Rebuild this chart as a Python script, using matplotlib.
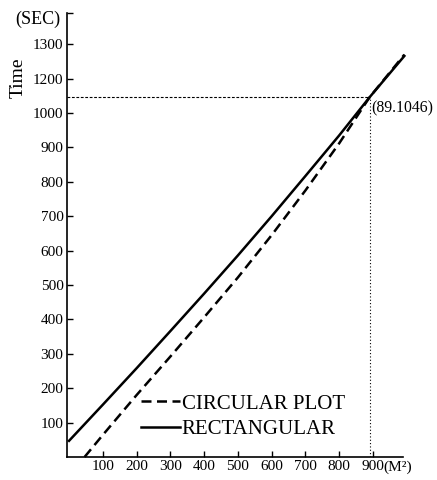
import matplotlib
matplotlib.use("Agg")
import matplotlib.pyplot as plt

# ---- data ----
rect_x = [0, 100, 200, 300, 400, 500, 600, 700, 800, 890, 993]
rect_y = [47, 152, 258, 366, 475, 586, 700, 817, 935, 1046, 1166]
circ_x = [46, 100, 200, 300, 400, 500, 600, 700, 800, 890, 993]
circ_y = [0, 64, 180, 292, 406, 522, 645, 775, 912, 1046, 1170]

x_ticks = [100, 200, 300, 400, 500, 600, 700, 800, 900]
x_tick_labels = ["100", "200", "300", "400", "500", "600", "700", "800", "900"]
y_ticks = [100, 200, 300, 400, 500, 600, 700, 800, 900, 1000, 1100, 1200, 1290]
y_tick_labels = ["100", "200", "300", "400", "500", "600", "700", "800", "900",
                 "1000", "1200", "1300", ""]

mark_x = 890
mark_y = 1046
mark_label = "(89.1046)"

plt.rcParams["font.family"] = ["Liberation Serif", "DejaVu Serif"]

W, H = 437, 480
fig = plt.figure(figsize=(W / 100, H / 100), dpi=100)
ax = fig.add_axes([67 / W, 1 - 457 / H, (403 - 67) / W, (457 - 13) / H])

ax.set_xlim(-6, 989)
ax.set_ylim(0, 1291)

ln_c, = ax.plot(circ_x, circ_y, color="black", lw=1.8, linestyle=(0, (4, 2.2)),
                clip_on=False, label="CIRCULAR PLOT")
ln_r, = ax.plot(rect_x, rect_y, color="black", lw=1.8, linestyle="-",
                clip_on=False, label="RECTANGULAR")

# reference lines for the intersection
ax.plot([-6, mark_x], [mark_y, mark_y], color="black", lw=0.8,
        linestyle=(0, (2.5, 1.5)))
ax.plot([mark_x, mark_x], [0, mark_y], color="black", lw=0.8,
        linestyle=(0, (1, 2)))
ax.text(mark_x + 6, mark_y - 32, mark_label, fontsize=11.3, ha="left",
        va="center", clip_on=False)

for s in ["top", "right"]:
    ax.spines[s].set_visible(False)
for s in ["left", "bottom"]:
    ax.spines[s].set_linewidth(1.2)

ax.set_xticks(x_ticks)
ax.set_xticklabels(x_tick_labels)
ax.set_yticks(y_ticks)
ax.set_yticklabels(y_tick_labels)
ax.tick_params(axis="both", direction="in", length=4, width=1.0,
               labelsize=11, pad=2.5)

fig.text(383 / W, 1 - 467 / H, "(M²)", fontsize=11, ha="left", va="center")
fig.text(18 / W, 1 - 78 / H, "Time", fontsize=14, rotation=90,
         ha="center", va="center")
fig.text(38 / W, 1 - 19 / H, "(SEC)", fontsize=13, ha="center", va="center")

leg = fig.legend(handles=[ln_c, ln_r], loc="upper left",
                 bbox_to_anchor=(141 / W, 1 - 394 / H),
                 bbox_transform=fig.transFigure, frameon=False,
                 fontsize=15, handlelength=1.85, handletextpad=0.1,
                 labelspacing=0.3, borderpad=0, borderaxespad=0)

fig.savefig("out.png", dpi=100)
